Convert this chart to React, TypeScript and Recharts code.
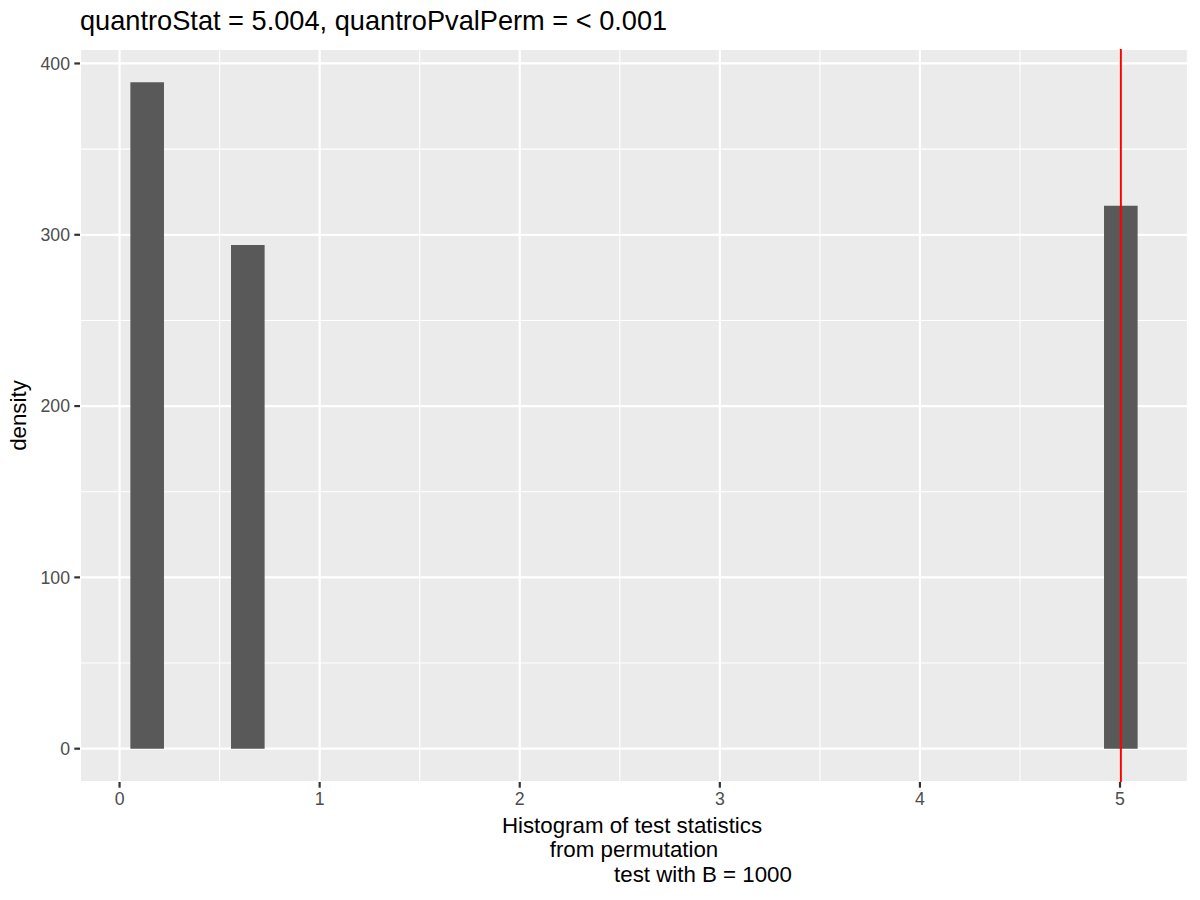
import React from 'react';
import { ComposedChart, XAxis, YAxis, CartesianGrid, ReferenceArea, ReferenceLine, Label } from 'recharts';

// ---- data ----
const binStarts = [0.054, 0.557, 4.920];
const binEnds = [0.222, 0.725, 5.088];
const densities = [389, 294, 317];
const observedStat = 5.004;
const xTicks = [0, 1, 2, 3, 4, 5];
const yTicks = [0, 100, 200, 300, 400];
const xMinor = [0.5, 1.5, 2.5, 3.5, 4.5];
const yMinor = [50, 150, 250, 350];
const titleText = 'quantroStat = 5.004, quantroPvalPerm = < 0.001';
const xLabelLines = ['Histogram of test statistics', 'from permutation', 'test with B = 1000'];
const yLabelText = 'density';

const xDomain: [number, number] = [-0.1977, 5.3397];
const yDomain: [number, number] = [-19.45, 408.45];

const FONT = '"Liberation Sans", Arial, Helvetica, sans-serif';

const bins = binStarts.map((s, i) => ({ x1: s, x2: binEnds[i], y: densities[i] }));

const XLabel = (props: any) => {
  const vb = props.viewBox || {};
  const cx = vb.x + vb.width / 2;
  const y0 = vb.y;
  const st = { fontSize: 22.3, fontFamily: FONT, fill: '#000' };
  return (
    <g>
      <text x={cx - 2} y={y0 + 51} textAnchor="middle" {...st}>{xLabelLines[0]}</text>
      <text x={cx} y={y0 + 75} textAnchor="middle" {...st}>{xLabelLines[1]}</text>
      <text x={cx + 69} y={y0 + 100} textAnchor="middle" {...st}>{xLabelLines[2]}</text>
    </g>
  );
};

const YLabel = (props: any) => {
  const vb = props.viewBox || {};
  const cy = vb.y + vb.height / 2;
  const x = 25.5;
  return (
    <text x={x} y={cy} transform={`rotate(-90, ${x}, ${cy})`} textAnchor="middle" fontSize={22.3} fontFamily={FONT} fill="#000">{yLabelText}</text>
  );
};

export default function App() {
  return (
    <div style={{ position: 'absolute', left: 0, top: 0, width: 1200, height: 900, background: '#fff' }}>
      <div style={{ position: 'absolute', left: 80, top: 6.5, fontFamily: FONT, fontSize: 27.2, lineHeight: '27.2px', color: '#000', whiteSpace: 'pre' }}>{titleText}</div>
      <ComposedChart width={1200} height={900} margin={{ top: 49, right: 12, bottom: 88, left: 0 }} data={bins}>
        <CartesianGrid
          yAxisId="minor"
          vertical={false}
          fill="#EBEBEB"
          fillOpacity={1}
          stroke="#FFFFFF"
          strokeWidth={1.1}
        />
        <CartesianGrid stroke="#FFFFFF" strokeWidth={2.2} />
        <YAxis yAxisId="minor" type="number" domain={yDomain} ticks={yMinor} interval={0} allowDataOverflow hide />
        <XAxis
          type="number"
          dataKey="x1"
          domain={xDomain}
          ticks={xTicks}
          interval={0}
          allowDataOverflow
          axisLine={false}
          tickSize={5.7}
          tickMargin={4.3}
          height={30}
          tickLine={{ stroke: '#333333', strokeWidth: 2.2 }}
          tick={{ fill: '#4D4D4D', fontSize: 17.7, fontFamily: FONT }}
        >
          <Label content={<XLabel />} />
        </XAxis>
        <YAxis
          type="number"
          domain={yDomain}
          ticks={yTicks}
          interval={0}
          allowDataOverflow
          axisLine={false}
          width={80}
          tickSize={5.7}
          tickMargin={4.3}
          tickLine={{ stroke: '#333333', strokeWidth: 2.2 }}
          tick={{ fill: '#4D4D4D', fontSize: 17.7, fontFamily: FONT }}
        >
          <Label content={<YLabel />} />
        </YAxis>
        {xMinor.map((v) => (
          <ReferenceLine key={`mx${v}`} x={v} stroke="#FFFFFF" strokeWidth={1.1} />
        ))}
        {bins.map((b, i) => (
          <ReferenceArea key={i} x1={b.x1} x2={b.x2} y1={0} y2={b.y} fill="#595959" fillOpacity={1} stroke="none" ifOverflow="visible" />
        ))}
        <ReferenceLine x={observedStat} stroke="#FF0000" strokeWidth={2} />
      </ComposedChart>
    </div>
  );
}
